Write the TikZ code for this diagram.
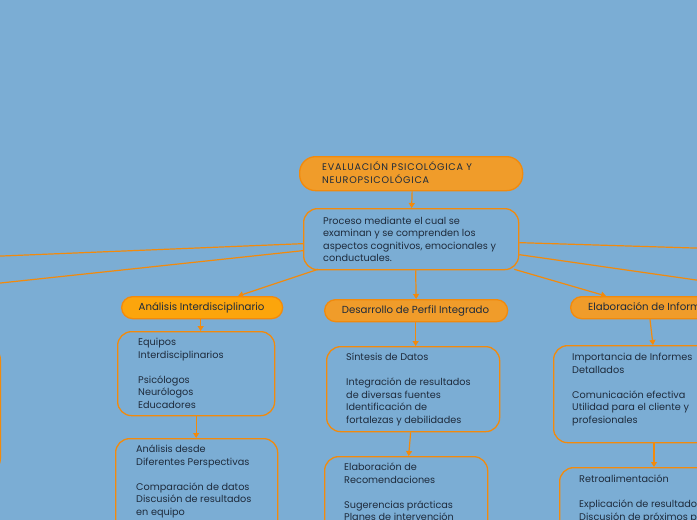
\documentclass[tikz,border=0pt]{standalone}
\usepackage{fontspec}
\setmainfont{Poppins}
\usetikzlibrary{arrows.meta,calc}
\definecolor{bgc}{HTML}{7BADD4}
\definecolor{strk}{HTML}{F28A0C}
\definecolor{hfill}{HTML}{F09C2A}
\definecolor{afill}{HTML}{FCA50C}
\definecolor{txtc}{HTML}{1E2B3C}
\begin{document}
\begin{tikzpicture}[x=1pt,y=-1pt,
  box/.style={draw=strk, line width=1.3pt, rounded corners=14pt, fill=bgc, inner sep=0pt, anchor=north west},
  head/.style={draw=strk, line width=1.3pt, rounded corners=11pt, fill=hfill, inner sep=0pt, anchor=north west, minimum height=22pt},
  txt/.style={font=\fontsize{9.7}{12.5}\selectfont, text=txtc, align=left, inner sep=0pt, anchor=base west},
  htxt/.style={txt, font=\fontsize{10.2}{12.5}\selectfont},
  arr/.style={draw=strk, line width=1.2pt, -{Triangle[length=5pt,width=6pt]}},
  ln/.style={draw=strk, line width=1.2pt}]
\useasboundingbox (0,0) rectangle (697,520);
\clip (0,0) rectangle (697,520);
\fill[bgc] (0,0) rectangle (697,520);

% off-canvas left box
\node[box, anchor=north east, minimum width=160pt, minimum height=127pt] (lb) at (1,345) {};

% title
\node[head, rounded corners=16pt, minimum width=223pt, minimum height=34pt] (t) at (299,156) {};
\node[txt, font=\fontsize{9.6}{12.5}\selectfont\addfontfeatures{LetterSpace=8}] (tt) at (322,183) {EVALUACIÓN PSICOLÓGICA Y\\NEUROPSICOLÓGICA};

% central box
\node[box, minimum width=215pt, minimum height=61pt] (c) at (303,208) {};
\node[txt] (ct) at (323,261.5) {Proceso mediante el cual se\\examinan y se comprenden los\\aspectos cognitivos, emocionales y\\conductuales.};

% off-canvas connectors
\coordinate (l1) at (-20,256.9);
\coordinate (l2) at (-20,285.2);
\coordinate (r1) at (720,248.8);
\coordinate (r2) at (720,283.4);
\draw[ln] ($(c.west)+(0,4.5)$) -- (l1);
\draw[ln] ($(c.west)+(0,11.5)$) -- (l2);
\draw[ln] ($(c.east)+(0,3.5)$) -- (r1);
\draw[ln] ($(c.east)+(0,15.5)$) -- (r2);

% headers
\node[head, fill=afill, minimum width=161pt] (ha) at (121,296) {};
\node[htxt, anchor=base] at (201.5,310.5) {Análisis Interdisciplinario};
\node[head, minimum width=183pt] (hd) at (324,299) {};
\node[htxt, anchor=base] at (415.5,313.5) {Desarrollo de Perfil Integrado};
\node[head, minimum width=160pt] (he) at (570,296) {};
\node[htxt] at (588,310.5) {Elaboración de Informes};

% column boxes
\node[box, minimum width=157pt, minimum height=84pt] (a1) at (117,331) {};
\node[txt] at (138,408) {Equipos\\Interdisciplinarios\\[12.5pt]Psicólogos\\Neurólogos\\Educadores};
\node[box, minimum width=162pt, minimum height=100pt] (a2) at (115,438) {};
\node[txt] at (136,515) {Análisis desde\\Diferentes Perspectivas\\[12.5pt]Comparación de datos\\Discusión de resultados\\en equipo};

\node[box, minimum width=173pt, minimum height=85pt] (d1) at (326,346) {};
\node[txt] at (346,423) {Síntesis de Datos\\[12.5pt]Integración de resultados\\de diversas fuentes\\Identificación de\\fortalezas y debilidades};
\node[box, minimum width=163pt, minimum height=100pt] (d2) at (324,456) {};
\node[txt] at (344,520.5) {Elaboración de\\Recomendaciones\\[12.5pt]Sugerencias prácticas\\Planes de intervención};

\node[box, minimum width=175pt, minimum height=97pt] (e1) at (553,345) {};
\node[txt] at (572,423) {Importancia de Informes\\Detallados\\[12.5pt]Comunicación efectiva\\Utilidad para el cliente y\\profesionales};
\node[box, minimum width=180pt, minimum height=100pt] (e2) at (559,467) {};
\node[txt] at (579,520) {Retroalimentación\\[12.5pt]Explicación de resultados\\Discusión de próximos pasos};

% arrows
\draw[arr] ($(t.south)+(1,0)$) -- ($(c.north)+(0.5,0)$);
\draw[arr] ($(c.south west)+(15,-1)$) -- ($(ha.north)+(36,0)$);
\draw[arr] ($(c.south)+(4.5,0)$) -- (hd.north);
\draw[arr] ($(c.south east)+(-5,-1)$) -- ($(he.north west)+(36,0)$);
\draw[arr] ($(ha.south)+(-1.5,0)$) -- ($(a1.north)+(4.5,0)$);
\draw[arr] (a1.south) -- ($(a2.north)+(-0.5,0)$);
\draw[arr] ($(hd.south)+(-0.5,0)$) -- ($(d1.north)+(2.5,0)$);
\draw[arr] ($(d1.south)+(-2.5,0)$) -- ($(d2.north)+(2.5,0)$);
\draw[arr] ($(he.south west)+(80,0)$) -- ($(e1.north west)+(100,0)$);
\draw[arr] ($(e1.south west)+(101,0)$) -- ($(e2.north west)+(95,0)$);
\end{tikzpicture}
\end{document}
